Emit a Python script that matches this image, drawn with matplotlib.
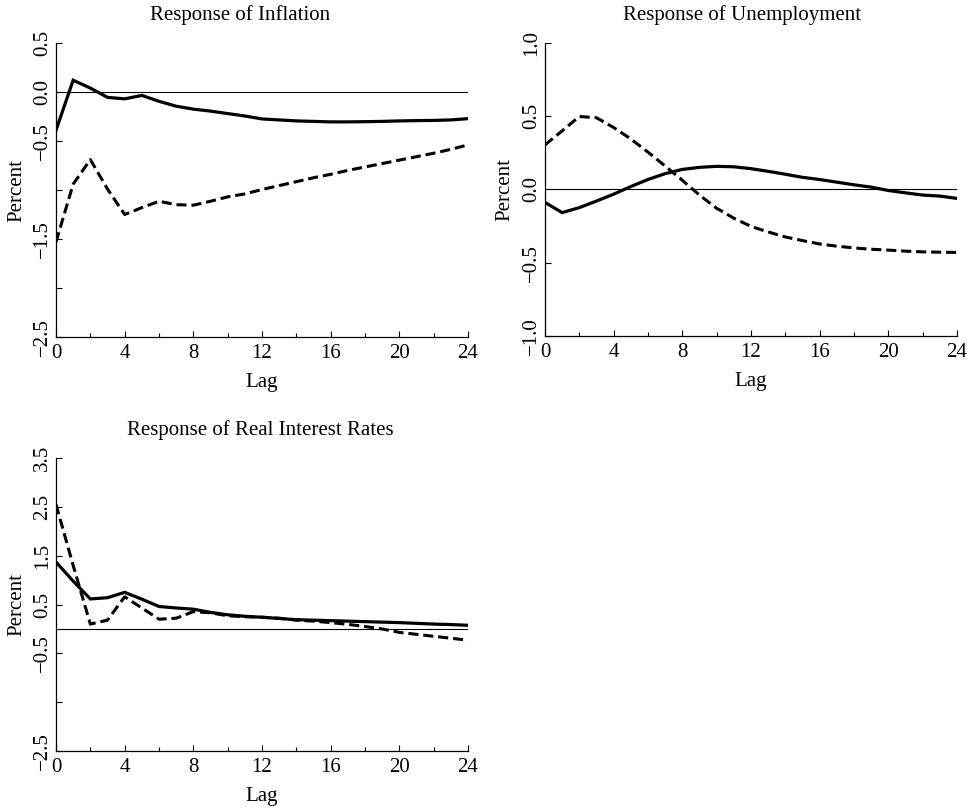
import numpy as np
import matplotlib
matplotlib.use("Agg")
import matplotlib.pyplot as plt

plt.rcParams['font.family'] = ['Liberation Serif', 'DejaVu Serif']

LAGS = np.arange(0, 25)

# Response of Inflation
INFL_SOLID = [-0.39, 0.12, 0.04, -0.055, -0.07, -0.035, -0.095, -0.145, -0.175,
              -0.195, -0.22, -0.245, -0.275, -0.285, -0.295, -0.30, -0.305,
              -0.305, -0.303, -0.30, -0.295, -0.292, -0.29, -0.285, -0.272]
INFL_DASHED = [-1.53, -0.94, -0.69, -0.99, -1.25, -1.18, -1.115, -1.15, -1.155,
               -1.115, -1.07, -1.04, -0.995, -0.955, -0.915, -0.875, -0.84,
               -0.80, -0.765, -0.73, -0.695, -0.66, -0.625, -0.585, -0.54]

# Response of Unemployment
UNEMP_SOLID = [-0.088, -0.158, -0.124, -0.079, -0.032, 0.02, 0.068, 0.108, 0.137,
               0.151, 0.158, 0.155, 0.142, 0.124, 0.104, 0.083, 0.068, 0.05,
               0.032, 0.016, -0.007, -0.023, -0.038, -0.045, -0.061]
UNEMP_DASHED = [0.304, 0.40, 0.498, 0.49, 0.423, 0.345, 0.255, 0.16, 0.063,
                -0.038, -0.128, -0.196, -0.252, -0.29, -0.324, -0.349, -0.372,
                -0.387, -0.399, -0.408, -0.414, -0.421, -0.426, -0.428, -0.43]

# Response of Real Interest Rates
RATE_SOLID = [1.37, 0.98, 0.615, 0.64, 0.75, 0.61, 0.46, 0.43, 0.405, 0.34,
              0.29, 0.26, 0.24, 0.215, 0.19, 0.18, 0.17, 0.16, 0.15, 0.14,
              0.13, 0.115, 0.10, 0.09, 0.075]
RATE_DASHED = [2.55, 1.3, 0.1, 0.18, 0.66, 0.43, 0.2, 0.22, 0.355, 0.33, 0.27,
               0.25, 0.24, 0.22, 0.18, 0.16, 0.13, 0.095, 0.05, 0.0, -0.07,
               -0.11, -0.15, -0.19, -0.23]

M = "\u2212"
INFL_YTICKS = [0.5, 0.0, -0.5, -1.0, -1.5, -2.0, -2.5]
INFL_YLABELS = ["0.5", "0.0", M + "0.5", "", M + "1.5", "", M + "2.5"]
UNEMP_YTICKS = [1.0, 0.5, 0.0, -0.5, -1.0]
UNEMP_YLABELS = ["1.0", "0.5", "0.0", M + "0.5", M + "1.0"]
RATE_YTICKS = [3.5, 2.5, 1.5, 0.5, -0.5, -1.5, -2.5]
RATE_YLABELS = ["3.5", "2.5", "1.5", "0.5", M + "0.5", "", M + "2.5"]

XTICKS = [0, 4, 8, 12, 16, 20, 24]
XMINOR = [2, 6, 10, 14, 18, 22]


def panel(fig, rect, title, title_x, solid, dashed, yticks, ylabels, ylim):
    ax = fig.add_axes(rect)
    ax.axhline(0, color="black", linewidth=0.8, zorder=1)
    ax.plot(LAGS, solid, color="black", linewidth=2.3, linestyle="-",
            solid_joinstyle="miter", zorder=3)
    ax.plot(LAGS, dashed, color="black", linewidth=2.2,
            linestyle=(0, (3.3, 1.6)), zorder=3)
    ax.set_xlim(0, 24)
    ax.set_ylim(*ylim)
    ax.set_xticks(XTICKS)
    ax.set_xticks(XMINOR, minor=True)
    ax.set_xticklabels([str(t) for t in XTICKS], fontsize=15)
    ax.set_yticks(yticks)
    ax.set_yticklabels(ylabels, rotation=90, va="center", fontsize=15)
    ax.tick_params(axis="both", which="major", direction="in", length=4.5,
                   width=0.8, pad=3)
    ax.tick_params(axis="x", which="major", pad=5)
    ax.tick_params(axis="x", which="minor", direction="in", length=3, width=0.8)
    for side in ["top", "right"]:
        ax.spines[side].set_visible(False)
    for side in ["left", "bottom"]:
        ax.spines[side].set_linewidth(0.9)
    ax.set_xlabel("Lag", fontsize=15, labelpad=7)
    ax.set_ylabel("Percent", fontsize=15, labelpad=5)
    ax.text(title_x, 1.095, title, transform=ax.transAxes, ha="center",
            va="center", fontsize=15)
    return ax


fig = plt.figure(figsize=(9.74, 8.08), dpi=100)

panel(fig, [0.0575, 0.5829, 0.423, 0.3639], "Response of Inflation", 0.447,
      INFL_SOLID, INFL_DASHED, INFL_YTICKS, INFL_YLABELS, (-2.5, 0.5))
panel(fig, [0.5595, 0.5842, 0.423, 0.3626], "Response of Unemployment", 0.478,
      UNEMP_SOLID, UNEMP_DASHED, UNEMP_YTICKS, UNEMP_YLABELS, (-1.0, 1.0))
panel(fig, [0.0575, 0.0705, 0.423, 0.3626], "Response of Real Interest Rates", 0.495,
      RATE_SOLID, RATE_DASHED, RATE_YTICKS, RATE_YLABELS, (-2.5, 3.5))

fig.savefig("out.png", dpi=100)
